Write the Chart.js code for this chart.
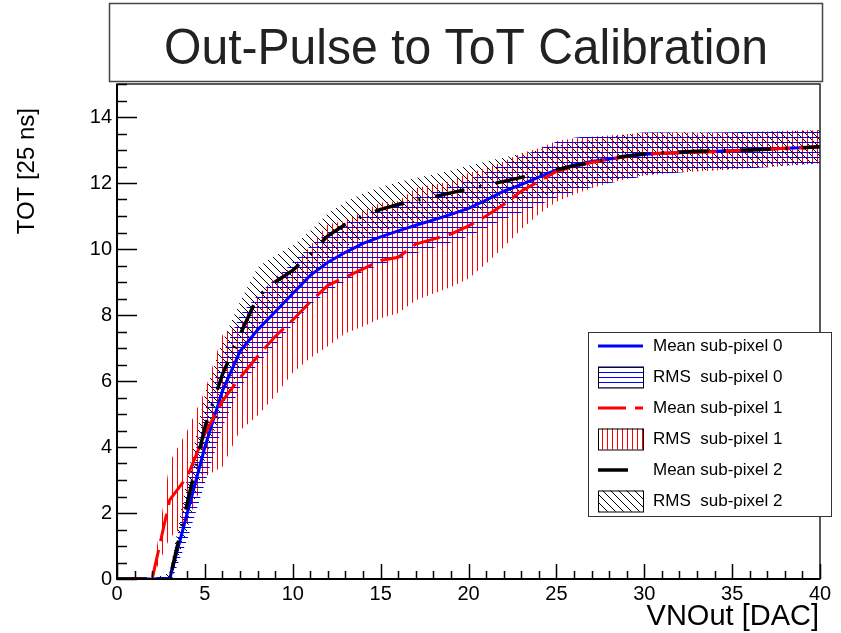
<!DOCTYPE html>
<html>
<head>
<meta charset="utf-8">
<title>Out-Pulse to ToT Calibration</title>
<script src="https://cdn.jsdelivr.net/npm/chart.js@4.4.1/dist/chart.umd.min.js"></script>
<style>
html,body{margin:0;padding:0;background:#fff;}
canvas{display:block;}
</style>
</head>
<body>
<canvas id="calib" width="841" height="633"></canvas>
<script>
// VNOut DAC steps
const vnout = [0,1,2,3,4,5,6,7,8,9,10,11,12,13,14,15,16,17,18,19,20,21,22,23,24,25,26,27,28,29,30,31,32,33,34,35,36,37,38,39,40];

// sub-pixel 0 (blue)
const meanPix0 = [0,0,0,0,2.0,4.0,5.7,6.9,7.55,8.1,8.65,9.2,9.6,9.9,10.17,10.37,10.55,10.72,10.88,11.05,11.23,11.48,11.75,11.95,12.18,12.4,12.55,12.65,12.73,12.8,12.87,12.9,12.92,12.94,12.96,12.98,13.0,13.02,13.05,13.07,13.1];
const rmsPix0 = [0,0,0,0.2,0.8,1.1,1.1,1.1,1.05,1.0,0.95,0.9,0.9,0.88,0.86,0.85,0.85,0.85,0.85,0.85,0.85,0.85,0.85,0.85,0.85,0.85,0.82,0.78,0.74,0.7,0.66,0.63,0.6,0.58,0.57,0.56,0.55,0.54,0.53,0.52,0.5];

// sub-pixel 1 (red)
const meanPix1 = [0,0,0,2.4,3.1,4.4,5.4,6.1,6.75,7.35,7.85,8.4,8.9,9.15,9.4,9.65,9.75,10.15,10.3,10.45,10.7,11.0,11.35,11.75,12.05,12.35,12.5,12.62,12.72,12.8,12.88,12.9,12.92,12.93,12.95,12.97,13.0,13.02,13.05,13.07,13.1];
const rmsPix1 = [0,0,0,1.15,1.4,1.3,2.0,1.6,1.8,1.8,1.6,1.7,1.85,1.7,1.75,1.75,1.7,1.7,1.65,1.6,1.6,1.45,1.3,1.15,1.0,0.92,0.85,0.78,0.72,0.68,0.65,0.63,0.6,0.58,0.57,0.56,0.55,0.54,0.53,0.52,0.5];

// sub-pixel 2 (black)
const meanPix2 = [0,0,0,0,2.3,4.6,6.2,7.4,8.55,9.0,9.35,9.85,10.4,10.75,11.0,11.2,11.35,11.47,11.58,11.7,11.82,11.93,12.05,12.17,12.28,12.4,12.52,12.63,12.73,12.82,12.88,12.92,12.94,12.96,12.97,12.98,13.0,13.02,13.04,13.07,13.1];
const rmsPix2 = [0,0,0,0.2,0.8,1.0,1.0,1.0,0.9,0.8,0.75,0.7,0.68,0.68,0.68,0.68,0.68,0.68,0.68,0.68,0.7,0.72,0.72,0.72,0.72,0.72,0.7,0.68,0.66,0.65,0.64,0.62,0.6,0.58,0.56,0.55,0.54,0.53,0.52,0.51,0.5];

const xTicks = [0,5,10,15,20,25,30,35,40];
const yTicks = [0,2,4,6,8,10,12,14];
const legendLabels = ['Mean sub-pixel 0','RMS  sub-pixel 0','Mean sub-pixel 1','RMS  sub-pixel 1','Mean sub-pixel 2','RMS  sub-pixel 2'];
const titleText = 'Out-Pulse to ToT Calibration';
const xTitle = 'VNOut [DAC]';
const yTitle = 'TOT [25 ns]';

const FONT = '"Liberation Sans", Arial, Helvetica, sans-serif';
const canvas = document.getElementById('calib');
const ctx = canvas.getContext('2d');

// hatch patterns like ROOT fill styles
function hatch(size, color, draw){
    const c = document.createElement('canvas');
    c.width = size; c.height = size;
    const g = c.getContext('2d');
    g.fillStyle = color;
    draw(g, size);
    return ctx.createPattern(c, 'repeat');
}
const horizHatch = hatch(5, '#0000ff', (g,s)=>g.fillRect(0,2,s,1));
const vertHatch = hatch(5, '#ff0000', (g,s)=>g.fillRect(2,0,1,s));
const diagHatch = hatch(8, '#000000', (g,s)=>{ for(let i=0;i<s;i++) g.fillRect(i,i,1,1); });

function pts(ys){ return vnout.map((x,i)=>({x:x, y:ys[i]})); }
function band(mean, rms, pattern){
    return [
        {data: vnout.map((x,i)=>({x:x, y:mean[i]-rms[i]})), borderWidth:0, pointRadius:0, fill:false, order:10},
        {data: vnout.map((x,i)=>({x:x, y:mean[i]+rms[i]})), borderWidth:0, pointRadius:0, fill:'-1', backgroundColor:pattern, order:10}
    ];
}

const line0 = {data: pts(meanPix0), borderColor:'#0000ff', borderWidth:3, pointRadius:0, fill:false, tension:0, order:3};
const line1 = {data: pts(meanPix1), borderColor:'#ff0000', borderWidth:3, borderDash:[28,9], pointRadius:0, fill:false, tension:0, order:2};
const line2 = {data: pts(meanPix2), borderColor:'#000000', borderWidth:3.5, borderDash:[30,15,2,15], pointRadius:0, fill:false, tension:0, order:1};

const datasets = [].concat(
    band(meanPix0, rmsPix0, horizHatch),
    band(meanPix1, rmsPix1, vertHatch),
    band(meanPix2, rmsPix2, diagHatch),
    [line0, line1, line2]
);

// legend rows: line sample or hatched box
const legendItems = [
    {kind:'line', ds:line0}, {kind:'box', fill:horizHatch},
    {kind:'line', ds:line1}, {kind:'box', fill:vertHatch},
    {kind:'line', ds:line2}, {kind:'box', fill:diagHatch}
];

const rootDecor = {
    id: 'rootDecor',
    afterDraw(chart){
        const c = chart.ctx;
        const a = chart.chartArea;
        const xs = chart.scales.x, ys = chart.scales.y;
        c.save();

        // frame
        c.strokeStyle = '#222';
        c.lineWidth = 1.5;
        c.strokeRect(a.left, a.top, a.right-a.left, a.bottom-a.top);

        // inward ticks
        c.strokeStyle = '#000';
        c.lineWidth = 1.5;
        c.beginPath();
        for(let v=0; v<=15.0001; v+=0.5){
            const py = Math.round(ys.getPixelForValue(v))+0.5;
            const len = yTicks.includes(v) ? 20 : 10;
            c.moveTo(a.left, py); c.lineTo(a.left+len, py);
        }
        for(let v=0; v<=40; v++){
            const px = Math.round(xs.getPixelForValue(v))+0.5;
            const len = xTicks.includes(v) ? 15 : 8;
            c.moveTo(px, a.bottom); c.lineTo(px, a.bottom-len);
        }
        c.stroke();

        // axis lines
        c.lineWidth = 2;
        c.beginPath();
        c.moveTo(a.left, a.top); c.lineTo(a.left, a.bottom); c.lineTo(a.right, a.bottom);
        c.stroke();

        // title box
        c.fillStyle = '#fff';
        c.fillRect(109, 3, 714, 79);
        c.strokeStyle = '#444';
        c.lineWidth = 1.5;
        c.strokeRect(109.5, 3.5, 713, 78);
        c.fillStyle = '#222';
        c.font = '50px ' + FONT;
        c.textAlign = 'center';
        c.textBaseline = 'alphabetic';
        const tw = c.measureText(titleText).width;
        c.save();
        c.translate(466, 64);
        c.scale(604/tw, 1);
        c.fillText(titleText, 0, 0);
        c.restore();

        // axis titles
        c.fillStyle = '#000';
        c.font = '29px ' + FONT;
        c.textAlign = 'right';
        c.textBaseline = 'alphabetic';
        c.fillText(xTitle, a.right - 1, 625);
        c.save();
        c.translate(27, 108);
        c.rotate(-Math.PI/2);
        c.font = '24px ' + FONT;
        c.textAlign = 'right';
        c.textBaseline = 'middle';
        c.fillText(yTitle, 0, 0);
        c.restore();

        // legend
        const lx = 588, ly = 332, lw = 243, lh = 184;
        c.fillStyle = '#fff';
        c.fillRect(lx, ly, lw, lh);
        c.strokeStyle = '#333';
        c.lineWidth = 1;
        c.strokeRect(lx+0.5, ly+0.5, lw, lh);
        c.font = '17px ' + FONT;
        c.textAlign = 'left';
        c.textBaseline = 'middle';
        legendItems.forEach((it, i)=>{
            const cy = ly + 14 + i*31;
            if(it.kind === 'line'){
                c.save();
                c.strokeStyle = it.ds.borderColor;
                c.lineWidth = it.ds.borderWidth;
                c.setLineDash(it.ds.borderDash || []);
                c.beginPath();
                c.moveTo(598, cy); c.lineTo(643, cy);
                c.stroke();
                c.restore();
            } else {
                c.fillStyle = it.fill;
                c.fillRect(598, cy-10.5, 45, 21);
                c.strokeStyle = '#000';
                c.lineWidth = 1;
                c.strokeRect(598.5, cy-10, 45, 21);
            }
            c.fillStyle = '#000';
            c.fillText(legendLabels[i], 653, cy);
        });

        c.restore();
    }
};

new Chart(ctx, {
    type: 'line',
    data: { datasets: datasets },
    options: {
        responsive: false,
        animation: false,
        layout: { padding: {top:84, right:21, bottom:0, left:0} },
        plugins: { legend:{display:false}, tooltip:{enabled:false}, title:{display:false} },
        scales: {
            x: {
                type: 'linear', min: 0, max: 40,
                grid: {display:false, drawTicks:false},
                border: {display:false},
                ticks: {color:'#000', font:{family:FONT, size:20}, padding:3, maxRotation:0},
                afterBuildTicks: s=>{ s.ticks = xTicks.map(v=>({value:v})); },
                afterFit: s=>{ s.height = 54; }
            },
            y: {
                type: 'linear', min: 0, max: 15,
                grid: {display:false, drawTicks:false},
                border: {display:false},
                ticks: {color:'#000', font:{family:FONT, size:20}, padding:5},
                afterBuildTicks: s=>{ s.ticks = yTicks.map(v=>({value:v})); },
                afterFit: s=>{ s.width = 117; }
            }
        }
    },
    plugins: [rootDecor]
});
</script>
</body>
</html>
